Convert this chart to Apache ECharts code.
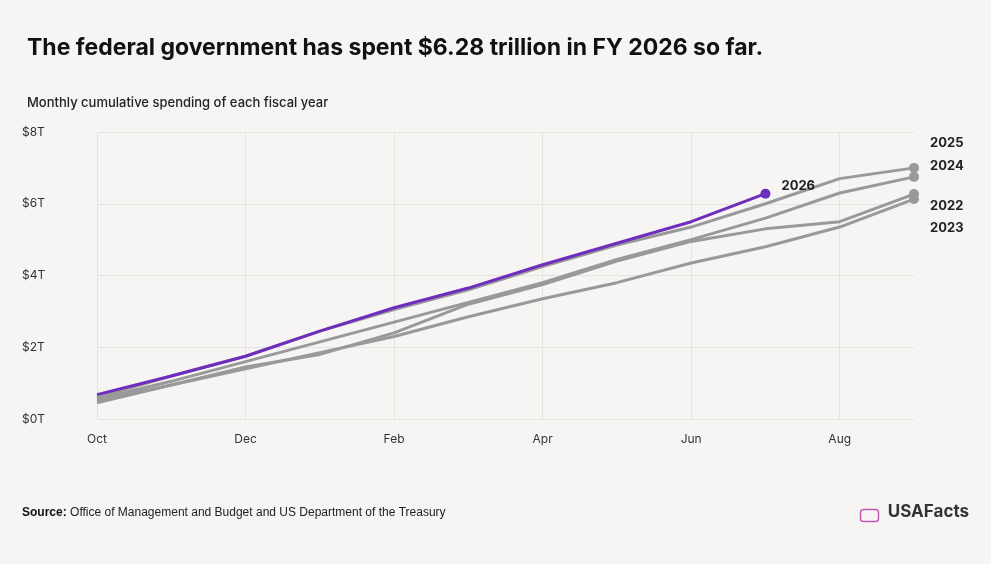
<!DOCTYPE html>
<html><head><meta charset="utf-8">
<script src="https://cdn.jsdelivr.net/npm/echarts@6/dist/echarts.min.js"></script>
<style>html,body{margin:0;background:#f6f5f3}#c{width:991px;height:564px}</style>
</head><body><div id="c"></div>
<script>
var months=['Oct','Nov','Dec','Jan','Feb','Mar','Apr','May','Jun','Jul','Aug','Sep'];
var fy2026=[0.68,1.2,1.75,2.45,3.1,3.65,4.3,4.9,5.5,6.28];
var fy2025=[0.6,1.2,1.75,2.45,3.05,3.6,4.25,4.85,5.35,6.0,6.7,7.0];
var fy2024=[0.55,1.05,1.6,2.15,2.7,3.25,3.8,4.45,5.0,5.6,6.3,6.75];
var fy2022=[0.5,0.95,1.45,1.8,2.4,3.2,3.75,4.4,4.95,5.3,5.5,6.27];
var fy2023=[0.45,0.95,1.4,1.85,2.3,2.85,3.35,3.8,4.35,4.8,5.35,6.13];

function mk(name,arr,color,dy,dx,z){
  var data=arr.map(function(v,i){
    return i==arr.length-1?{value:v,symbol:'circle',symbolSize:10}:v;
  });
  return {name:name,type:'line',data:data,symbol:'none',z:z,
    lineStyle:{color:color,width:3},itemStyle:{color:color},
    endLabel:{show:true,formatter:name,offset:[dx,dy],color:'#222',fontSize:13,fontWeight:'bold',fontFamily:'Inter'}};
}
var chart=echarts.init(document.getElementById('c'));
chart.setOption({
  backgroundColor:'#f6f5f3',
  animation:false,
  textStyle:{fontFamily:'Inter'},
  title:[{text:'The federal government has spent $6.28 trillion in FY 2026 so far.',left:22,top:32,
    textStyle:{fontSize:23,fontWeight:'bold',color:'#111'}},
    {text:'Monthly cumulative spending of each fiscal year',left:22,top:92,textStyle:{fontSize:13,fontWeight:500,color:'#222'}}],
  grid:{left:97,right:77,top:132,bottom:145},
  xAxis:{type:'category',data:months,boundaryGap:false,
    axisLine:{show:false},axisTick:{show:false},
    axisLabel:{color:'#333',fontSize:12,margin:14,interval:1},
    splitLine:{show:true,interval:1,lineStyle:{color:'#e6e4e1'}}},
  yAxis:{type:'value',min:0,max:8,interval:2,
    axisLabel:{formatter:'${value}T',align:'left',margin:75,color:'#333',fontSize:12},
    splitLine:{lineStyle:{color:'#e6e4e1'}}},
  series:[
    mk('2023',fy2023,'#999',29,8,2),
    mk('2022',fy2022,'#999',12,8,2),
    mk('2024',fy2024,'#999',-11,8,2),
    mk('2025',fy2025,'#999',-25,8,2),
    mk('2026',fy2026,'#6f2dbd',-8,8,5)
  ],
  graphic:[
    {type:'text',left:22,top:507,style:{rich:{b:{fontWeight:'bold',fontSize:12,fill:'#111'},n:{fontSize:12,fill:'#222'}},text:'{b|Source:} {n|Office of Management and Budget and US Department of the Treasury}',fontFamily:'Inter'}},
    {type:'text',right:22,top:503,style:{text:'USAFacts',fontSize:17,fontWeight:'bold',fill:'#333',fontFamily:'Inter'}},
    {type:'rect',right:110,top:507,shape:{width:18,height:12,r:3},style:{fill:'none',stroke:'#c45ab3',lineWidth:1.5}}
  ]
});
</script></body></html>
